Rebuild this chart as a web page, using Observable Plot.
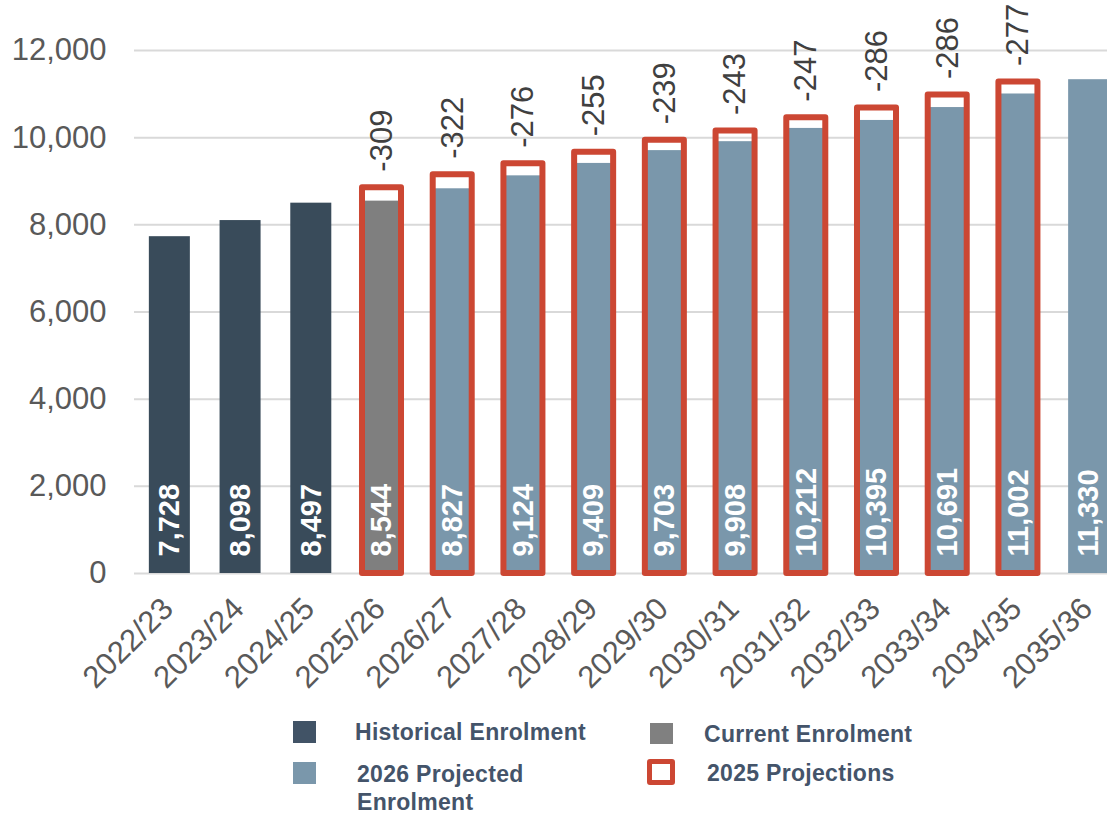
<!DOCTYPE html>
<html><head><meta charset="utf-8">
<script src="https://cdn.jsdelivr.net/npm/d3@7"></script>
<script src="https://cdn.jsdelivr.net/npm/@observablehq/plot@0.6"></script>
<style>
html,body{margin:0;padding:0;background:#fff;overflow:hidden;width:1107px;height:813px}
body{font-family:"Liberation Sans",Arial,sans-serif;}
#chart{width:1107px;overflow:hidden}
#chart svg{display:block;max-width:none}
#legend{position:relative;height:103px;width:1107px}
.li{position:absolute;font-weight:bold;font-size:23px;line-height:28px;color:#44546A;letter-spacing:0.3px;white-space:nowrap}
.sw{position:absolute;box-sizing:border-box}
</style></head><body>
<div id="chart"></div>
<div id="legend">
  <div class="sw" style="left:293px;top:11px;width:23px;height:22px;background:#415366"></div>
  <div class="li" style="left:355px;top:8px">Historical Enrolment</div>
  <div class="sw" style="left:650px;top:13px;width:23px;height:21px;background:#808080"></div>
  <div class="li" style="left:704px;top:10px">Current Enrolment</div>
  <div class="sw" style="left:293px;top:52px;width:23px;height:22px;background:#7A97AB"></div>
  <div class="li" style="left:357px;top:50px">2026 Projected<br>Enrolment</div>
  <div class="sw" style="left:647px;top:49px;width:28px;height:26px;border:5px solid #CC4733;border-radius:3px"></div>
  <div class="li" style="left:707px;top:49px">2025 Projections</div>
</div>
<script>
const years = ["2022/23","2023/24","2024/25","2025/26","2026/27","2027/28","2028/29","2029/30","2030/31","2031/32","2032/33","2033/34","2034/35","2035/36"];
const enrolment = [7728, 8098, 8497, 8544, 8827, 9124, 9409, 9703, 9908, 10212, 10395, 10691, 11002, 11330];
const status = ["Historical","Historical","Historical","Current","Projected","Projected","Projected","Projected","Projected","Projected","Projected","Projected","Projected","Projected"];
const projections2025 = [null, null, null, 8853, 9149, 9400, 9664, 9942, 10151, 10459, 10681, 10977, 11279, null];
const differences = [null, null, null, -309, -322, -276, -255, -239, -243, -247, -286, -286, -277, null];
const statusNames = ["Historical","Current","Projected"];
const statusColors = ["#394B5A","#7F7F7F","#7A97AB"];
const yTicks = [0, 2000, 4000, 6000, 8000, 10000, 12000];

const rows = years.map((year, i) => ({year, value: enrolment[i], status: status[i], proj2025: projections2025[i], diff: differences[i]}));
const proj = rows.filter(d => d.proj2025 != null);
const fmt = d3.format(",");

const plot = Plot.plot({
  width: 1124, height: 710,
  marginLeft: 134, marginRight: 0, marginTop: 50, marginBottom: 137,
  style: {fontFamily: '"Liberation Sans", Arial, sans-serif', background: "white", maxWidth: "none", overflow: "visible"},
  x: {domain: years, paddingInner: 0.42, paddingOuter: 0.21, round: false, axis: null},
  y: {domain: [0, 12000], axis: null},
  color: {domain: statusNames, range: statusColors},
  marks: [
    Plot.gridY({ticks: yTicks, stroke: "#d9d9d9", strokeOpacity: 1, strokeWidth: 2}),
    Plot.axisY({ticks: yTicks, tickSize: 0, tickPadding: 28, tickFormat: fmt, fontSize: 31, color: "#595959", label: null}),
    Plot.barY(rows, {x: "year", y: "value", fill: "status"}),
    Plot.barY(proj, {x: "year", y: "proj2025", fill: "none", stroke: "#CC4733", strokeWidth: 6, insetLeft: 1, insetRight: 1, strokeLinejoin: "round"}),
    Plot.text(rows, {x: "year", y: d => 0, text: d => fmt(d.value), rotate: -90, textAnchor: "start", lineAnchor: "middle", dy: -17, fill: "white", fontWeight: "bold", fontSize: 29}),
    Plot.text(proj, {x: "year", y: "proj2025", text: d => String(d.diff), rotate: -90, textAnchor: "start", lineAnchor: "middle", dy: -16, fill: "#404040", fontSize: 31}),
    Plot.text(years, {x: d => d, frameAnchor: "bottom", rotate: -45, textAnchor: "end", lineAnchor: "bottom", dx: 5, dy: 37, fontSize: 31, fill: "#595959"})
  ]
});
document.getElementById("chart").appendChild(plot);
</script>
</body></html>
